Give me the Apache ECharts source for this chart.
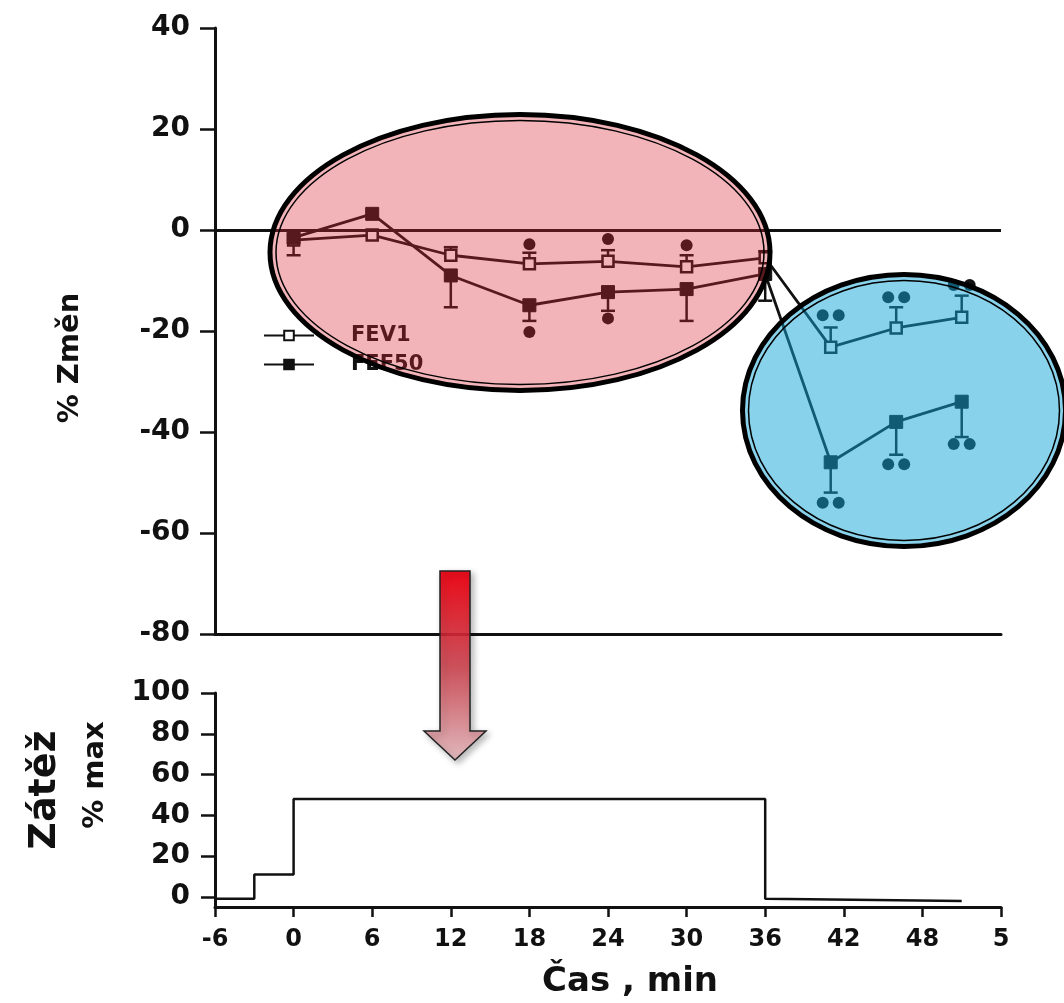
<!DOCTYPE html>
<html>
<head>
<meta charset="UTF-8">
<title>FEV1 / FEF50</title>
<script src="https://cdn.jsdelivr.net/npm/echarts@6/dist/echarts.min.js"></script>
<style>
html, body { margin:0; padding:0; background:#fff; }
#chart { width:1064px; height:1003px; }
</style>
</head>
<body>
<div id="chart"></div>
<script type="text/javascript">
// time points (min)
var timeX = [0, 6, 12, 18, 24, 30, 36, 41, 46, 51];
var fev1 = [-2, -1, -5, -6.7, -6.2, -7.3, -5.5, -23.2, -19.4, -17.3];
var fef50 = [-1.5, 3.2, -9, -14.9, -12.3, -11.7, -8.7, -46, -38, -34];
// error bar ends, null = none
var fev1Err = [null, null, -3.4, -4.5, -4, -5, -4.2, -19.3, -15.3, -13];
var fef50Err = [-5, null, -15.3, -18, -16, -18, -14, -52, -44.5, -41];
// significance marks: [x, y, count]
var fev1Sig = [[18, -2.8, 1], [24, -1.8, 1], [30, -3, 1], [41, -16.9, 2], [46, -13.3, 2], [51, -10.9, 2]];
var fef50Sig = [[18, -20.2, 1], [24, -17.5, 1], [41, -54, 2], [46, -46.4, 2], [51, -42.4, 2]];
// workload step
var loadX = [-6, -3, -3, 0, 0, 36, 36, 51];
var loadY = [-1, -1, 11, 11, 48, 48, -1, -2];
// ticks
var xTicks = [-6, 0, 6, 12, 18, 24, 30, 36, 42, 48, 54];
var xTickLabels = ['-6', '0', '6', '12', '18', '24', '30', '36', '42', '48', '5'];
var loadYTicks = [0, 20, 40, 60, 80, 100];

var INK = '#111';
var FONT = '"DejaVu Sans", "Liberation Sans", sans-serif';

function pairs(xs, ys) {
	return xs.map(function (x, i) { return [x, ys[i]]; });
}
function errData(vals, ends) {
	var out = [];
	for (var i = 0; i < timeX.length; i++) {
		if (ends[i] != null) out.push([timeX[i], vals[i], ends[i]]);
	}
	return out;
}
function errRender(params, api) {
	var p0 = api.coord([api.value(0), api.value(1)]);
	var p1 = api.coord([api.value(0), api.value(2)]);
	var st = { stroke: INK, lineWidth: 2.5 };
	return { type: 'group', children: [
		{ type: 'line', shape: { x1: p0[0], y1: p0[1], x2: p1[0], y2: p1[1] }, style: st },
		{ type: 'line', shape: { x1: p1[0] - 7, y1: p1[1], x2: p1[0] + 7, y2: p1[1] }, style: st }
	]};
}
function sigRender(params, api) {
	var p = api.coord([api.value(0), api.value(1)]);
	var n = api.value(2);
	var offs = n == 2 ? [-8, 8] : [0];
	return { type: 'group', children: offs.map(function (o) {
		return { type: 'circle', shape: { cx: p[0] + o, cy: p[1], r: 6 }, style: { fill: INK } };
	})};
}

var myChart = echarts.init(document.getElementById('chart'));

var option = {
	animation: false,
	backgroundColor: '#fff',
	grid: [
		{ left: 215, top: 28, width: 786, height: 606 },
		{ left: 215, top: 693, width: 786, height: 214 }
	],
	legend: {
		orient: 'vertical', left: 258, top: 320, itemGap: 8,
		itemWidth: 50, itemHeight: 12,
		textStyle: { fontFamily: FONT, fontWeight: 'bold', fontSize: 21, color: INK, padding: [0, 0, 0, 32] },
		data: ['FEV1', 'FEF50']
	},
	xAxis: [
		{ type: 'value', gridIndex: 0, min: -6, max: 54, interval: 6,
		  axisLine: { onZero: false, lineStyle: { color: INK, width: 3 } },
		  axisTick: { show: false }, axisLabel: { show: false }, splitLine: { show: false } },
		{ type: 'value', gridIndex: 1, min: -6, max: 54, interval: 6,
		  axisLine: { onZero: false, lineStyle: { color: INK, width: 3 } },
		  axisTick: { length: 10, lineStyle: { color: INK, width: 2.5 } },
		  axisLabel: { margin: 21, color: INK, fontFamily: FONT, fontWeight: 'bold', fontSize: 24,
			formatter: function (v) { var i = xTicks.indexOf(v); return i >= 0 ? xTickLabels[i] : v; } },
		  splitLine: { show: false } }
	],
	yAxis: [
		{ type: 'value', gridIndex: 0, min: -80, max: 40, interval: 20,
		  axisLine: { onZero: false, lineStyle: { color: INK, width: 3 } },
		  axisTick: { length: 15, lineStyle: { color: INK, width: 2.5 } },
		  axisLabel: { margin: 25, color: INK, fontFamily: FONT, fontWeight: 'bold', fontSize: 28 },
		  splitLine: { show: false } },
		{ type: 'value', gridIndex: 1, min: -5, max: 100,
		  axisLine: { onZero: false, lineStyle: { color: INK, width: 3 } },
		  axisTick: { length: 14, customValues: loadYTicks, lineStyle: { color: INK, width: 2.5 } },
		  axisLabel: { margin: 25, customValues: loadYTicks, color: INK, fontFamily: FONT, fontWeight: 'bold', fontSize: 28 },
		  splitLine: { show: false } }
	],
	series: [
		{ name: 'FEV1', type: 'line', xAxisIndex: 0, yAxisIndex: 0, z: 3,
		  data: pairs(timeX, fev1),
		  symbol: 'rect', symbolSize: 11,
		  itemStyle: { color: '#fff', borderColor: INK, borderWidth: 2.5 },
		  lineStyle: { color: INK, width: 2.8 },
		  markLine: { silent: true, symbol: 'none', label: { show: false },
			lineStyle: { color: INK, width: 2.8, type: 'solid' }, data: [{ yAxis: 0 }] } },
		{ name: 'FEF50', type: 'line', xAxisIndex: 0, yAxisIndex: 0, z: 3,
		  data: pairs(timeX, fef50),
		  symbol: 'rect', symbolSize: 13,
		  itemStyle: { color: INK, borderColor: INK, borderWidth: 1 },
		  lineStyle: { color: INK, width: 2.8 } },
		{ type: 'custom', xAxisIndex: 0, yAxisIndex: 0, z: 2, renderItem: errRender, data: errData(fev1, fev1Err) },
		{ type: 'custom', xAxisIndex: 0, yAxisIndex: 0, z: 2, renderItem: errRender, data: errData(fef50, fef50Err) },
		{ type: 'custom', xAxisIndex: 0, yAxisIndex: 0, z: 2, renderItem: sigRender, data: fev1Sig },
		{ type: 'custom', xAxisIndex: 0, yAxisIndex: 0, z: 2, renderItem: sigRender, data: fef50Sig },
		{ name: 'Zátěž', type: 'line', xAxisIndex: 1, yAxisIndex: 1,
		  data: pairs(loadX, loadY), symbol: 'none',
		  lineStyle: { color: INK, width: 2.5 } }
	],
	graphic: [
		{ type: 'text', x: 70, y: 358, rotation: Math.PI / 2,
		  style: { text: '% Změn', font: 'bold 29px ' + FONT, fill: INK, align: 'center', verticalAlign: 'middle' } },
		{ type: 'text', x: 45, y: 790, rotation: Math.PI / 2,
		  style: { text: 'Zátěž', font: 'bold 38px ' + FONT, fill: INK, align: 'center', verticalAlign: 'middle' } },
		{ type: 'text', x: 95, y: 775, rotation: Math.PI / 2,
		  style: { text: '% max', font: 'bold 29px ' + FONT, fill: INK, align: 'center', verticalAlign: 'middle' } },
		{ type: 'text', x: 630, y: 982,
		  style: { text: 'Čas , min', font: 'bold 34px ' + FONT, fill: INK, align: 'center', verticalAlign: 'middle' } },

		// pink ellipse
		{ type: 'ellipse', z: 100, shape: { cx: 520, cy: 252.5, rx: 250, ry: 138 },
		  style: { fill: 'rgba(220,40,55,0.35)', stroke: '#000', lineWidth: 5 } },
		{ type: 'ellipse', z: 101, shape: { cx: 520, cy: 252.5, rx: 244, ry: 132 },
		  style: { fill: 'none', stroke: '#000', lineWidth: 1.5 } },

		// blue ellipse
		{ type: 'ellipse', z: 100, shape: { cx: 904, cy: 410.5, rx: 161.5, ry: 136 },
		  style: { fill: 'rgba(20,165,215,0.5)', stroke: '#000', lineWidth: 5 } },
		{ type: 'ellipse', z: 101, shape: { cx: 904, cy: 410.5, rx: 155.5, ry: 130 },
		  style: { fill: 'none', stroke: '#000', lineWidth: 1.5 } },

		// arrow
		{ type: 'polygon', z: 102,
		  shape: { points: [[440, 571], [470, 571], [470, 731], [486, 731], [455, 760], [424, 731], [440, 731]] },
		  style: {
			fill: new echarts.graphic.LinearGradient(0, 0, 0, 1, [
				{ offset: 0, color: 'rgba(238,0,16,0.95)' },
				{ offset: 0.5, color: 'rgba(205,60,72,0.85)' },
				{ offset: 1, color: 'rgba(228,185,190,0.9)' }
			]),
			stroke: '#222', lineWidth: 1.5,
			shadowBlur: 6, shadowColor: 'rgba(0,0,0,0.3)', shadowOffsetX: 3, shadowOffsetY: 3
		  } }
	]
};

myChart.setOption(option);
</script>
</body>
</html>
